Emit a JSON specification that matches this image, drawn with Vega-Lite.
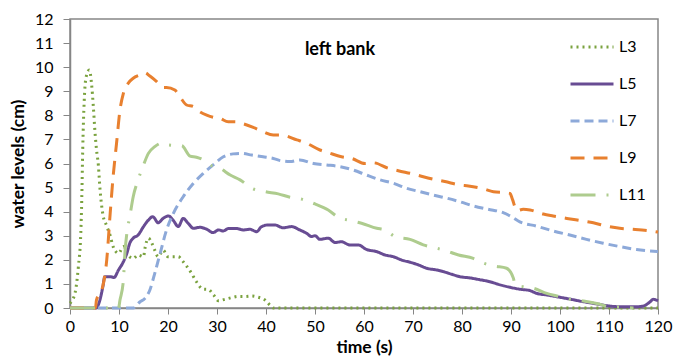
{
  "$schema": "https://vega.github.io/schema/vega-lite/v6.json",
  "width": 588,
  "height": 289,
  "autosize": {"type": "none"},
  "padding": {"left": 70, "top": 19, "right": 15, "bottom": 52},
  "background": "white",
  "config": {
    "font": "Lato",
    "view": {"stroke": "#868686", "strokeWidth": 1.5},
    "axis": {
      "grid": false,
      "domainColor": "#868686",
      "domainWidth": 1.5,
      "tickColor": "#868686",
      "tickWidth": 1,
      "tickSize": 6,
      "labelColor": "#000000",
      "labelFontSize": 16,
      "labelFont": "Lato",
      "labelOverlap": false,
      "labelFlush": false,
      "titleFont": "Lato",
      "titleFontSize": 17.5,
      "titleFontWeight": "bold",
      "titleColor": "#000000"
    }
  },
  "datasets": {
    "series": [
      {"s":"L3","t":0,"v":0.2},{"s":"L3","t":1,"v":0.6},{"s":"L3","t":1.7,"v":1.7},{"s":"L3","t":2.2,"v":3.1},{"s":"L3","t":2.4,"v":4.5},{"s":"L3","t":2.6,"v":6.6},{"s":"L3","t":2.9,"v":8.6},{"s":"L3","t":3.3,"v":9.6},{"s":"L3","t":3.95,"v":9.88},{"s":"L3","t":4.4,"v":9.3},{"s":"L3","t":4.75,"v":8.4},{"s":"L3","t":5.1,"v":7.3},{"s":"L3","t":5.4,"v":6.6},{"s":"L3","t":5.8,"v":5.9},{"s":"L3","t":6.1,"v":5.0},{"s":"L3","t":6.7,"v":3.9},{"s":"L3","t":7.5,"v":3.4},{"s":"L3","t":8.2,"v":3.0},{"s":"L3","t":8.8,"v":2.55},{"s":"L3","t":9.9,"v":2.27},{"s":"L3","t":10.9,"v":2.55},{"s":"L3","t":11.6,"v":2.27},{"s":"L3","t":12.9,"v":2.06},{"s":"L3","t":13.9,"v":2.2},{"s":"L3","t":15,"v":2.13},{"s":"L3","t":15.3,"v":2.48},{"s":"L3","t":16,"v":2.9},{"s":"L3","t":16.7,"v":2.69},{"s":"L3","t":17.3,"v":2.4},{"s":"L3","t":18,"v":2.13},{"s":"L3","t":19,"v":2.4},{"s":"L3","t":20,"v":2.13},{"s":"L3","t":22.1,"v":2.13},{"s":"L3","t":23.1,"v":1.92},{"s":"L3","t":24.8,"v":1.44},{"s":"L3","t":25.8,"v":1.09},{"s":"L3","t":27.2,"v":0.78},{"s":"L3","t":28.2,"v":0.77},{"s":"L3","t":29.3,"v":0.54},{"s":"L3","t":30.3,"v":0.3},{"s":"L3","t":31.6,"v":0.36},{"s":"L3","t":33,"v":0.43},{"s":"L3","t":34.3,"v":0.48},{"s":"L3","t":35.7,"v":0.48},{"s":"L3","t":37.1,"v":0.5},{"s":"L3","t":38.4,"v":0.45},{"s":"L3","t":39.8,"v":0.33},{"s":"L3","t":40.8,"v":0.12},{"s":"L3","t":41.5,"v":0},{"s":"L3","t":120,"v":0},
      {"s":"L5","t":0,"v":0},{"s":"L5","t":5.3,"v":0},{"s":"L5","t":6.1,"v":0.33},{"s":"L5","t":6.7,"v":0.88},{"s":"L5","t":7.1,"v":1.3},{"s":"L5","t":8.2,"v":1.3},{"s":"L5","t":9.0,"v":1.27},{"s":"L5","t":9.9,"v":1.58},{"s":"L5","t":10.9,"v":1.92},{"s":"L5","t":11.6,"v":2.27},{"s":"L5","t":12.2,"v":2.69},{"s":"L5","t":12.9,"v":2.9},{"s":"L5","t":13.9,"v":3.03},{"s":"L5","t":15,"v":3.38},{"s":"L5","t":16,"v":3.65},{"s":"L5","t":16.9,"v":3.79},{"s":"L5","t":18,"v":3.54},{"s":"L5","t":19,"v":3.72},{"s":"L5","t":20.1,"v":3.82},{"s":"L5","t":21.1,"v":3.63},{"s":"L5","t":22.1,"v":3.38},{"s":"L5","t":23.1,"v":3.72},{"s":"L5","t":24.1,"v":3.52},{"s":"L5","t":25.2,"v":3.31},{"s":"L5","t":26.5,"v":3.35},{"s":"L5","t":27.9,"v":3.27},{"s":"L5","t":29.2,"v":3.13},{"s":"L5","t":30.3,"v":3.24},{"s":"L5","t":31.3,"v":3.2},{"s":"L5","t":32.3,"v":3.3},{"s":"L5","t":34,"v":3.3},{"s":"L5","t":35.4,"v":3.24},{"s":"L5","t":36.7,"v":3.27},{"s":"L5","t":38.1,"v":3.17},{"s":"L5","t":39.1,"v":3.38},{"s":"L5","t":40.5,"v":3.45},{"s":"L5","t":41.8,"v":3.45},{"s":"L5","t":43.5,"v":3.33},{"s":"L5","t":45.2,"v":3.38},{"s":"L5","t":46.9,"v":3.24},{"s":"L5","t":48.3,"v":3.1},{"s":"L5","t":49.3,"v":2.97},{"s":"L5","t":50,"v":3.0},{"s":"L5","t":51,"v":2.85},{"s":"L5","t":52.7,"v":2.9},{"s":"L5","t":54.1,"v":2.72},{"s":"L5","t":55.4,"v":2.75},{"s":"L5","t":57.1,"v":2.62},{"s":"L5","t":58.8,"v":2.62},{"s":"L5","t":60.5,"v":2.43},{"s":"L5","t":62.6,"v":2.34},{"s":"L5","t":64.3,"v":2.2},{"s":"L5","t":66,"v":2.13},{"s":"L5","t":67.7,"v":1.99},{"s":"L5","t":69.4,"v":1.9},{"s":"L5","t":71.1,"v":1.79},{"s":"L5","t":72.8,"v":1.65},{"s":"L5","t":74.8,"v":1.58},{"s":"L5","t":76.2,"v":1.51},{"s":"L5","t":77.9,"v":1.4},{"s":"L5","t":79.6,"v":1.3},{"s":"L5","t":81.6,"v":1.25},{"s":"L5","t":83.5,"v":1.18},{"s":"L5","t":85.7,"v":1.09},{"s":"L5","t":87.8,"v":0.96},{"s":"L5","t":89.8,"v":0.86},{"s":"L5","t":91.8,"v":0.78},{"s":"L5","t":93.9,"v":0.72},{"s":"L5","t":95.2,"v":0.61},{"s":"L5","t":97.3,"v":0.54},{"s":"L5","t":99.3,"v":0.47},{"s":"L5","t":102,"v":0.37},{"s":"L5","t":104.8,"v":0.26},{"s":"L5","t":107.5,"v":0.17},{"s":"L5","t":110.2,"v":0.08},{"s":"L5","t":112.9,"v":0.05},{"s":"L5","t":115.6,"v":0.05},{"s":"L5","t":117,"v":0.08},{"s":"L5","t":118.4,"v":0.26},{"s":"L5","t":119,"v":0.36},{"s":"L5","t":120,"v":0.3},
      {"s":"L7","t":0,"v":0},{"s":"L7","t":12.9,"v":0},{"s":"L7","t":14.3,"v":0.26},{"s":"L7","t":15.3,"v":0.4},{"s":"L7","t":16.3,"v":0.75},{"s":"L7","t":17.3,"v":1.44},{"s":"L7","t":18.4,"v":2.27},{"s":"L7","t":19.7,"v":3.24},{"s":"L7","t":21.1,"v":3.93},{"s":"L7","t":23.1,"v":4.62},{"s":"L7","t":25.2,"v":5.18},{"s":"L7","t":27.2,"v":5.59},{"s":"L7","t":29.2,"v":5.94},{"s":"L7","t":31.3,"v":6.28},{"s":"L7","t":33.3,"v":6.4},{"s":"L7","t":35,"v":6.42},{"s":"L7","t":37.1,"v":6.35},{"s":"L7","t":39.4,"v":6.28},{"s":"L7","t":41.5,"v":6.21},{"s":"L7","t":42.9,"v":6.12},{"s":"L7","t":44.9,"v":6.08},{"s":"L7","t":46.9,"v":6.15},{"s":"L7","t":49.7,"v":6.0},{"s":"L7","t":52.4,"v":5.94},{"s":"L7","t":55.1,"v":5.87},{"s":"L7","t":57.8,"v":5.73},{"s":"L7","t":60.5,"v":5.52},{"s":"L7","t":63.3,"v":5.32},{"s":"L7","t":66,"v":5.18},{"s":"L7","t":68.7,"v":4.97},{"s":"L7","t":71.4,"v":4.83},{"s":"L7","t":74.1,"v":4.69},{"s":"L7","t":76.9,"v":4.56},{"s":"L7","t":79.6,"v":4.41},{"s":"L7","t":82.3,"v":4.24},{"s":"L7","t":85.3,"v":4.1},{"s":"L7","t":88.4,"v":3.96},{"s":"L7","t":90.1,"v":3.79},{"s":"L7","t":91.8,"v":3.58},{"s":"L7","t":95.2,"v":3.4},{"s":"L7","t":98.6,"v":3.2},{"s":"L7","t":102,"v":3.03},{"s":"L7","t":105.4,"v":2.85},{"s":"L7","t":108.8,"v":2.69},{"s":"L7","t":112.2,"v":2.55},{"s":"L7","t":115.6,"v":2.43},{"s":"L7","t":120,"v":2.34},
      {"s":"L9","t":0,"v":0},{"s":"L9","t":5.2,"v":0},{"s":"L9","t":5.4,"v":0.33},{"s":"L9","t":6.5,"v":0.75},{"s":"L9","t":7.5,"v":2.0},{"s":"L9","t":8.2,"v":3.93},{"s":"L9","t":8.8,"v":5.45},{"s":"L9","t":9.5,"v":6.84},{"s":"L9","t":10.2,"v":8.22},{"s":"L9","t":10.9,"v":8.92},{"s":"L9","t":11.9,"v":9.34},{"s":"L9","t":12.9,"v":9.54},{"s":"L9","t":14.3,"v":9.68},{"s":"L9","t":15.3,"v":9.77},{"s":"L9","t":16.3,"v":9.63},{"s":"L9","t":17.7,"v":9.4},{"s":"L9","t":19,"v":9.16},{"s":"L9","t":19.7,"v":9.16},{"s":"L9","t":21.4,"v":9.05},{"s":"L9","t":22.4,"v":8.78},{"s":"L9","t":23.8,"v":8.43},{"s":"L9","t":25.2,"v":8.36},{"s":"L9","t":26.5,"v":8.15},{"s":"L9","t":27.9,"v":8.01},{"s":"L9","t":29.2,"v":7.92},{"s":"L9","t":30.6,"v":7.87},{"s":"L9","t":32.3,"v":7.73},{"s":"L9","t":33.7,"v":7.73},{"s":"L9","t":35,"v":7.67},{"s":"L9","t":37.4,"v":7.5},{"s":"L9","t":39.4,"v":7.32},{"s":"L9","t":41.5,"v":7.18},{"s":"L9","t":43.2,"v":7.18},{"s":"L9","t":46.3,"v":6.98},{"s":"L9","t":48.3,"v":6.84},{"s":"L9","t":51,"v":6.56},{"s":"L9","t":52.7,"v":6.45},{"s":"L9","t":55.4,"v":6.28},{"s":"L9","t":57.5,"v":6.21},{"s":"L9","t":60.2,"v":6.0},{"s":"L9","t":61.9,"v":6.03},{"s":"L9","t":65,"v":5.8},{"s":"L9","t":67,"v":5.7},{"s":"L9","t":70.1,"v":5.56},{"s":"L9","t":72.1,"v":5.45},{"s":"L9","t":74.8,"v":5.32},{"s":"L9","t":76.5,"v":5.25},{"s":"L9","t":79.6,"v":5.11},{"s":"L9","t":81.3,"v":5.07},{"s":"L9","t":84.4,"v":4.95},{"s":"L9","t":86.4,"v":4.83},{"s":"L9","t":88.8,"v":4.79},{"s":"L9","t":89.8,"v":4.76},{"s":"L9","t":90.3,"v":4.51},{"s":"L9","t":91.2,"v":4.04},{"s":"L9","t":92.5,"v":4.1},{"s":"L9","t":93.9,"v":4.07},{"s":"L9","t":96.6,"v":3.9},{"s":"L9","t":98.6,"v":3.82},{"s":"L9","t":101.4,"v":3.72},{"s":"L9","t":104.1,"v":3.63},{"s":"L9","t":106.8,"v":3.54},{"s":"L9","t":109.5,"v":3.4},{"s":"L9","t":112.2,"v":3.31},{"s":"L9","t":114.9,"v":3.27},{"s":"L9","t":118.4,"v":3.2},{"s":"L9","t":120,"v":3.15},
      {"s":"L11","t":0,"v":0},{"s":"L11","t":9.9,"v":0},{"s":"L11","t":10.2,"v":0.33},{"s":"L11","t":10.9,"v":1.16},{"s":"L11","t":11.2,"v":2.27},{"s":"L11","t":11.6,"v":3.1},{"s":"L11","t":12.2,"v":3.79},{"s":"L11","t":12.9,"v":4.62},{"s":"L11","t":13.9,"v":5.32},{"s":"L11","t":15,"v":5.94},{"s":"L11","t":16,"v":6.42},{"s":"L11","t":17.3,"v":6.7},{"s":"L11","t":19,"v":6.86},{"s":"L11","t":20.1,"v":6.77},{"s":"L11","t":22.8,"v":6.74},{"s":"L11","t":24.5,"v":6.31},{"s":"L11","t":25.8,"v":6.26},{"s":"L11","t":27.2,"v":6.15},{"s":"L11","t":28.6,"v":5.94},{"s":"L11","t":30.6,"v":5.8},{"s":"L11","t":32.7,"v":5.52},{"s":"L11","t":34.7,"v":5.32},{"s":"L11","t":37.1,"v":4.97},{"s":"L11","t":39.8,"v":4.83},{"s":"L11","t":42.5,"v":4.74},{"s":"L11","t":44.9,"v":4.6},{"s":"L11","t":47.3,"v":4.52},{"s":"L11","t":50,"v":4.32},{"s":"L11","t":52.7,"v":4.07},{"s":"L11","t":55.1,"v":3.72},{"s":"L11","t":56.8,"v":3.65},{"s":"L11","t":59.5,"v":3.52},{"s":"L11","t":62.6,"v":3.31},{"s":"L11","t":64.3,"v":3.24},{"s":"L11","t":66.3,"v":2.97},{"s":"L11","t":69.4,"v":2.85},{"s":"L11","t":72.1,"v":2.62},{"s":"L11","t":74.8,"v":2.48},{"s":"L11","t":76.2,"v":2.41},{"s":"L11","t":79.3,"v":2.2},{"s":"L11","t":82.3,"v":2.06},{"s":"L11","t":84.4,"v":1.86},{"s":"L11","t":86.7,"v":1.74},{"s":"L11","t":89.1,"v":1.65},{"s":"L11","t":90.5,"v":1.23},{"s":"L11","t":90.8,"v":0.96},{"s":"L11","t":92.5,"v":0.88},{"s":"L11","t":94.6,"v":0.82},{"s":"L11","t":97.3,"v":0.61},{"s":"L11","t":100,"v":0.47},{"s":"L11","t":102,"v":0.36},{"s":"L11","t":104.8,"v":0.29},{"s":"L11","t":107.5,"v":0.19},{"s":"L11","t":110.2,"v":0.05},{"s":"L11","t":112.9,"v":0.03},{"s":"L11","t":115,"v":0}
    ],
    "note": [{"label": "left bank", "t": 55.1, "v": 10.7}]
  },
  "encoding": {
    "x": {
      "field": "t", "type": "quantitative", "title": "time (s)",
      "scale": {"domain": [0, 120], "nice": false},
      "axis": {"values": [0,10,20,30,40,50,60,70,80,90,100,110,120], "labelOverlap": false, "labelFlush": false, "tickSize": 6, "labelPadding": 4, "titlePadding": 4}
    },
    "y": {
      "field": "v", "type": "quantitative", "title": "water levels (cm)",
      "scale": {"domain": [0, 12], "nice": false},
      "axis": {"values": [0,1,2,3,4,5,6,7,8,9,10,11,12], "labelOverlap": false, "labelFlush": false, "tickSize": 7, "labelPadding": 10, "titlePadding": 7}
    }
  },
  "layer": [
    {
      "data": {"name": "series"},
      "mark": {"type": "line", "strokeWidth": 3, "interpolate": "monotone"},
      "encoding": {
        "color": {
          "field": "s", "type": "nominal",
          "scale": {"domain": ["L3","L5","L7","L9","L11"], "range": ["#7AA23E","#684C93","#8DA9D9","#E8802F","#AECC8E"]},
          "legend": {
            "title": null, "orient": "none", "legendX": 499, "legendY": 5,
            "symbolType": "stroke", "symbolSize": 1849, "symbolStrokeWidth": 3,
            "labelFontSize": 16, "labelFont": "Lato", "labelColor": "#000000",
            "labelOffset": 4, "rowPadding": 6
          }
        },
        "strokeDash": {
          "field": "s", "type": "nominal",
          "scale": {"domain": ["L3","L5","L7","L9","L11"], "range": [[2,4],[1,0],[9,5],[14,9],[25,11,2,11]]},
          "legend": {
            "title": null, "orient": "none", "legendX": 499, "legendY": 5,
            "symbolType": "stroke", "symbolSize": 1849, "symbolStrokeWidth": 3,
            "labelFontSize": 16, "labelFont": "Lato", "labelColor": "#000000",
            "labelOffset": 4, "rowPadding": 6
          }
        },
        "order": {"field": "t", "type": "quantitative"}
      }
    },
    {
      "data": {"name": "note"},
      "mark": {"type": "text", "fontSize": 18, "fontWeight": "bold", "font": "Lato", "align": "center", "baseline": "middle", "color": "#000000"},
      "encoding": {
        "text": {"field": "label"}
      }
    }
  ]
}
